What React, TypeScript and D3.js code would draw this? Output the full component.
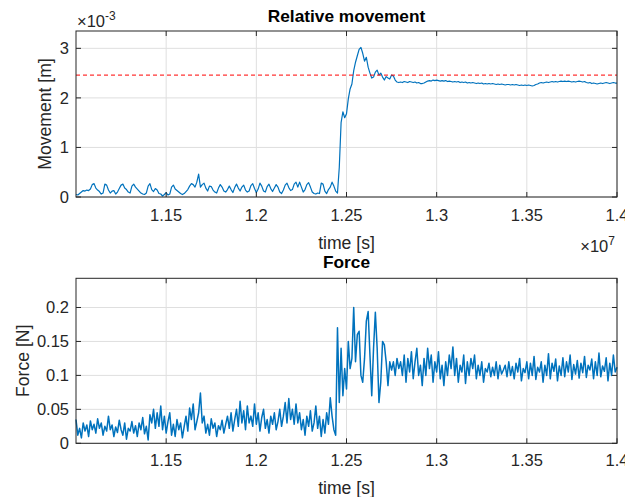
import React from "react";
import * as d3 from "d3";

// time axis: samples evenly spaced over [1.1e7, 1.4e7] s
const T_START = 1.1e7;
const T_END = 1.4e7;
const X_TICKS = [1.15e7, 1.2e7, 1.25e7, 1.3e7, 1.35e7, 1.4e7];

// Relative movement, in units of 1e-3 m
const MOVEMENT_E3 = [
  0.05, 0.04, 0.07, 0.1, 0.13, 0.12, 0.14, 0.13, 0.16, 0.25,
  0.27, 0.18, 0.14, 0.11, 0.06, 0.08, 0.26, 0.24, 0.14, 0.08,
  0.12, 0.13, 0.06, 0.1, 0.17, 0.24, 0.26, 0.18, 0.15, 0.1,
  0.08, 0.22, 0.26, 0.2, 0.16, 0.12, 0.08, 0.06, 0.05, 0.08,
  0.22, 0.27, 0.15, 0.11, 0.17, 0.14, 0.07, 0.06, 0.02, 0.05,
  0.09, 0.04, 0.06, 0.2, 0.24, 0.16, 0.13, 0.1, 0.07, 0.05,
  0.07, 0.11, 0.15, 0.22, 0.27, 0.25, 0.2, 0.3, 0.46, 0.2,
  0.25, 0.28, 0.18, 0.12, 0.22, 0.21, 0.14, 0.1, 0.08, 0.18,
  0.25, 0.2, 0.12, 0.1, 0.15, 0.22, 0.15, 0.09, 0.19, 0.26,
  0.18, 0.12, 0.2, 0.24, 0.14, 0.1, 0.12, 0.23, 0.27, 0.17,
  0.09, 0.16, 0.28, 0.22, 0.12, 0.1, 0.21, 0.26, 0.17, 0.11,
  0.18, 0.25, 0.2, 0.1, 0.07, 0.14, 0.24, 0.28, 0.19, 0.13,
  0.15, 0.26, 0.3, 0.2, 0.3, 0.2, 0.1, 0.15, 0.25, 0.29,
  0.2, 0.1, 0.07, 0.06, 0.08, 0.07, 0.28, 0.26, 0.12, 0.07,
  0.15, 0.2, 0.3, 0.22, 0.12, 0.08, 0.6, 1.5, 1.72, 1.6,
  1.68, 1.98, 2.18, 2.28, 2.55, 2.72, 2.85, 2.98, 3.02, 2.9,
  2.74, 2.82, 2.62, 2.5, 2.4, 2.42, 2.52, 2.56, 2.46, 2.5,
  2.42, 2.36, 2.43, 2.4, 2.38, 2.46, 2.44, 2.36, 2.32, 2.31,
  2.32, 2.31, 2.33, 2.32, 2.31, 2.33, 2.32, 2.31, 2.32, 2.3,
  2.31, 2.29, 2.29, 2.3, 2.32, 2.34, 2.35, 2.34, 2.36, 2.35,
  2.36, 2.35, 2.34, 2.35, 2.34, 2.35, 2.33, 2.34, 2.33, 2.32,
  2.33, 2.32, 2.33, 2.31, 2.32, 2.31, 2.32, 2.3, 2.31, 2.3,
  2.31, 2.3, 2.29, 2.3, 2.29, 2.3, 2.28, 2.29, 2.28, 2.29,
  2.28, 2.29, 2.28, 2.27, 2.28, 2.27, 2.28, 2.27, 2.26, 2.27,
  2.27, 2.26, 2.27, 2.26, 2.27, 2.26, 2.25, 2.26, 2.25, 2.26,
  2.25, 2.26, 2.25, 2.24, 2.25, 2.27, 2.28, 2.3, 2.31, 2.3,
  2.31, 2.32, 2.31, 2.32, 2.33, 2.32, 2.33, 2.32, 2.33, 2.34,
  2.33, 2.34, 2.33, 2.34, 2.33, 2.32, 2.33, 2.32, 2.33, 2.34,
  2.33, 2.32, 2.33, 2.31, 2.3, 2.31, 2.29, 2.3, 2.29, 2.28,
  2.29, 2.3, 2.29, 2.3, 2.31, 2.3, 2.29, 2.3, 2.31, 2.3,
  2.3,
];
const MOVEMENT_THRESHOLD_E3 = 2.46;
const MOVEMENT_Y_MAX_E3 = 3.35;
const MOVEMENT_Y_TICKS = [0, 1, 2, 3];

// Force in N
const FORCE = [
  0.035, 0.012, 0.022, 0.008, 0.03, 0.018, 0.027, 0.01, 0.033, 0.02,
  0.028, 0.015, 0.036, 0.022, 0.03, 0.012, 0.025, 0.018, 0.04, 0.02,
  0.027, 0.01, 0.024, 0.016, 0.034, 0.02, 0.012, 0.03, 0.006, 0.022,
  0.018, 0.032, 0.015, 0.026, 0.01, 0.03, 0.02, 0.038, 0.014, 0.025,
  0.005, 0.042, 0.03, 0.05, 0.022, 0.045, 0.025, 0.055, 0.02, 0.04,
  0.015, 0.032, 0.045, 0.012, 0.028, 0.01, 0.035, 0.02, 0.03, 0.008,
  0.025, 0.04, 0.018, 0.052, 0.035, 0.058, 0.02, 0.032, 0.045, 0.074,
  0.03, 0.04, 0.015, 0.028, 0.012, 0.036, 0.022, 0.03, 0.01, 0.026,
  0.02, 0.034, 0.015, 0.028, 0.04, 0.022, 0.045, 0.018, 0.035, 0.05,
  0.025, 0.062, 0.03, 0.048, 0.02, 0.055, 0.03, 0.04, 0.025, 0.058,
  0.028, 0.045, 0.018, 0.038, 0.05, 0.022, 0.035, 0.015, 0.04, 0.028,
  0.045, 0.02, 0.032, 0.05, 0.025, 0.04, 0.06, 0.03, 0.066, 0.035,
  0.05, 0.028, 0.058, 0.03, 0.045, 0.02, 0.035, 0.012, 0.04, 0.025,
  0.048, 0.018, 0.03, 0.055, 0.022, 0.04, 0.01, 0.035, 0.015, 0.045,
  0.028, 0.067, 0.04, 0.02, 0.012, 0.17, 0.06, 0.14, 0.07, 0.11,
  0.08, 0.15, 0.11, 0.125, 0.2, 0.12, 0.16, 0.165, 0.1, 0.09,
  0.125, 0.18, 0.194, 0.13, 0.07, 0.14, 0.193, 0.14, 0.06, 0.09,
  0.15, 0.145, 0.12, 0.085, 0.12, 0.108, 0.12, 0.1, 0.125, 0.11,
  0.12, 0.1, 0.13, 0.09, 0.125, 0.105, 0.135, 0.095, 0.12, 0.14,
  0.1, 0.115, 0.085, 0.125, 0.1, 0.14, 0.11, 0.13, 0.09, 0.12,
  0.105, 0.135, 0.095, 0.115, 0.085, 0.12, 0.1, 0.13, 0.11, 0.142,
  0.1, 0.125, 0.09, 0.115, 0.105, 0.13, 0.088, 0.12, 0.1, 0.125,
  0.11, 0.13, 0.095, 0.115, 0.1, 0.12, 0.09, 0.11, 0.105, 0.118,
  0.098, 0.112, 0.1, 0.12, 0.095, 0.115, 0.102, 0.108, 0.115, 0.098,
  0.12, 0.1, 0.113, 0.095, 0.118, 0.105, 0.125, 0.092, 0.11, 0.104,
  0.12, 0.095, 0.118, 0.1, 0.128, 0.094, 0.112, 0.105, 0.12, 0.09,
  0.115, 0.1, 0.132, 0.095, 0.118, 0.106, 0.124, 0.092, 0.114, 0.1,
  0.126, 0.098, 0.12, 0.105, 0.13, 0.094, 0.116, 0.102, 0.122, 0.096,
  0.118, 0.104, 0.128, 0.097, 0.115, 0.108, 0.124, 0.095, 0.12, 0.1,
  0.133, 0.098, 0.114, 0.106, 0.126, 0.092, 0.118, 0.1, 0.13, 0.105,
  0.112,
];
const FORCE_Y_MAX = 0.243;
const FORCE_Y_TICKS = [0, 0.05, 0.1, 0.15, 0.2];

const W = 625;
const H = 497;
const AX_COLOR = "#262626";
const GRID_COLOR = "#dfdfdf";
const LINE_COLOR = "#0072BD";
const FONT = "'Liberation Sans', Arial, Helvetica, sans-serif";
const TICK_FS = 16.5;
const LABEL_FS = 17.6;
const TITLE_FS = 17.3;

type PanelProps = {
  top: number;
  bottom: number;
  left: number;
  right: number;
  values: number[];
  yMax: number;
  yTicks: number[];
  title: string;
  titleY: number;
  ylabel: string;
  ylabelX: number;
  tickBaseline: number;
  xlabelBaseline: number;
  lineWidth: number;
  threshold?: number;
};

function Panel(p: PanelProps) {
  const x = d3.scaleLinear().domain([T_START, T_END]).range([p.left, p.right]);
  const y = d3.scaleLinear().domain([0, p.yMax]).range([p.bottom, p.top]);
  const n = p.values.length;
  const times = p.values.map((_, i) => T_START + (i * (T_END - T_START)) / (n - 1));
  const line = d3
    .line<number>()
    .x((_, i) => x(times[i]))
    .y((v) => y(v));
  const cx = (p.left + p.right) / 2;
  const cy = (p.top + p.bottom) / 2;
  const fmtX = (v: number) => d3.format("~g")(v / 1e7);
  const fmtY = (v: number) => d3.format("~g")(v);
  const tl = 5;
  return (
    <g>
      <rect x={p.left} y={p.top} width={p.right - p.left} height={p.bottom - p.top} fill="#fff" />
      {X_TICKS.map((t) => (
        <line key={"gx" + t} x1={x(t)} x2={x(t)} y1={p.top} y2={p.bottom} stroke={GRID_COLOR} strokeWidth={1} />
      ))}
      {p.yTicks.map((t) => (
        <line key={"gy" + t} x1={p.left} x2={p.right} y1={y(t)} y2={y(t)} stroke={GRID_COLOR} strokeWidth={1} />
      ))}
      <path d={line(p.values) || ""} fill="none" stroke={LINE_COLOR} strokeWidth={p.lineWidth} strokeLinejoin="round" />
      {p.threshold !== undefined && (
        <line
          x1={p.left}
          x2={p.right}
          y1={y(p.threshold)}
          y2={y(p.threshold)}
          stroke="#ff0000"
          strokeWidth={1}
          strokeDasharray="4,3"
        />
      )}
      <rect
        x={p.left}
        y={p.top}
        width={p.right - p.left}
        height={p.bottom - p.top}
        fill="none"
        stroke={AX_COLOR}
        strokeWidth={1}
      />
      {X_TICKS.map((t) => (
        <g key={"tx" + t}>
          <line x1={x(t)} x2={x(t)} y1={p.bottom} y2={p.bottom - tl} stroke={AX_COLOR} />
          <line x1={x(t)} x2={x(t)} y1={p.top} y2={p.top + tl} stroke={AX_COLOR} />
          <text
            x={x(t)}
            y={p.tickBaseline}
            textAnchor="middle"
            fontSize={TICK_FS}
            fontFamily={FONT}
            fill={AX_COLOR}
          >
            {fmtX(t)}
          </text>
        </g>
      ))}
      {p.yTicks.map((t) => (
        <g key={"ty" + t}>
          <line x1={p.left} x2={p.left + tl} y1={y(t)} y2={y(t)} stroke={AX_COLOR} />
          <line x1={p.right} x2={p.right - tl} y1={y(t)} y2={y(t)} stroke={AX_COLOR} />
          <text
            x={p.left - 7}
            y={y(t) + 6}
            textAnchor="end"
            fontSize={TICK_FS}
            fontFamily={FONT}
            fill={AX_COLOR}
          >
            {fmtY(t)}
          </text>
        </g>
      ))}
      <text
        x={cx}
        y={p.titleY}
        textAnchor="middle"
        fontSize={TITLE_FS}
        fontWeight="bold"
        fontFamily={FONT}
        fill="#000"
      >
        {p.title}
      </text>
      <text
        x={cx}
        y={p.xlabelBaseline}
        textAnchor="middle"
        fontSize={LABEL_FS}
        fontFamily={FONT}
        fill={AX_COLOR}
      >
        time [s]
      </text>
      <text
        transform={`translate(${p.ylabelX},${cy}) rotate(-90)`}
        textAnchor="middle"
        fontSize={LABEL_FS}
        fontFamily={FONT}
        fill={AX_COLOR}
      >
        {p.ylabel}
      </text>
    </g>
  );
}

export default function App() {
  const left = 76;
  const right = 617;
  return (
    <svg
      width={W}
      height={H}
      style={{ position: "absolute", left: 0, top: 0, background: "#fff" }}
    >
      <rect x={0} y={0} width={W} height={H} fill="#fff" />
      <Panel
        top={31}
        bottom={197}
        left={left}
        right={right}
        values={MOVEMENT_E3}
        yMax={MOVEMENT_Y_MAX_E3}
        yTicks={MOVEMENT_Y_TICKS}
        title="Relative movement"
        titleY={22}
        ylabel="Movement [m]"
        ylabelX={51}
        tickBaseline={221}
        xlabelBaseline={249}
        lineWidth={1.2}
        threshold={MOVEMENT_THRESHOLD_E3}
      />
      {/* exponent labels */}
      <text x={77} y={27} fontSize={TICK_FS} fontFamily={FONT} fill={AX_COLOR}>
        ×10
        <tspan fontSize={12} dy={-7}>-3</tspan>
      </text>
      <text x={615} y={252} textAnchor="end" fontSize={TICK_FS} fontFamily={FONT} fill={AX_COLOR}>
        ×10
        <tspan fontSize={12} dy={-7}>7</tspan>
      </text>
      <Panel
        top={278.3}
        bottom={443.3}
        left={left}
        right={right}
        values={FORCE}
        yMax={FORCE_Y_MAX}
        yTicks={FORCE_Y_TICKS}
        title="Force"
        titleY={268}
        ylabel="Force [N]"
        ylabelX={29}
        tickBaseline={466}
        xlabelBaseline={494}
        lineWidth={1.5}
      />
    </svg>
  );
}
